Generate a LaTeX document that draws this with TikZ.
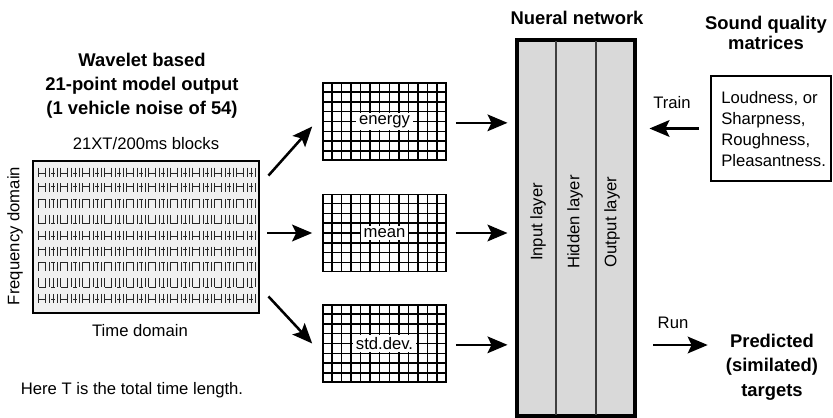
\documentclass[tikz,border=0pt]{standalone}
\usepackage{fontspec}
\setmainfont{Liberation Sans}
\usetikzlibrary{arrows.meta,calc}

\begin{document}
\begin{tikzpicture}[x=0.75pt,y=-0.75pt,
  body/.style={font=\fontsize{12.5}{15.75}\selectfont, inner sep=0pt},
  head/.style={font=\fontsize{13.8}{18}\selectfont\bfseries, align=center, inner sep=0pt},
  arr/.style={line width=1.9pt, -{Stealth[length=15pt,width=12.5pt,inset=3pt]}},
  tile/.style={line width=0.65pt, black!85},
  gridline/.style={line width=1.1pt},
  mapbox/.style={draw, line width=1.2pt, minimum width=92.25pt, minimum height=57.75pt, inner sep=0pt},
  maplabel/.style={body, fill=white, inner xsep=2pt, inner ysep=1.5pt},
  layer/.style={body, rotate=90},
]
\useasboundingbox (0,0) rectangle (833,418);

% ---- wavelet time-frequency block ----
\node[head] (title) at (142,86) {Wavelet based\\21-point model output\\(1 vehicle noise of 54)};
\node[body] (blocks) at (146,144) {21XT/200ms blocks};
\node[draw, line width=2.2pt, fill=black!6, minimum width=169.5pt, minimum height=114pt, inner sep=0pt] (tf) at (146,237) {};
% tiles: bar height offset per row
\foreach \r/\hb in {0/1.5,1/-1.5,2/-4.5,3/4.5,4/1.5,5/-1.5,6/-4.5,7/4.5,8/1.5}{
  \foreach \u in {0,...,9}{
    \pgfmathsetmacro\xx{38.5+22*\u}
    \pgfmathsetmacro\yc{172+15.8*\r}
    \draw[tile]
      (\xx,\yc-4.5) -- (\xx,\yc+4.5)
      (\xx+7,\yc-4.5) -- (\xx+7,\yc+4.5)
      (\xx,\yc+\hb) -- (\xx+7,\yc+\hb)
      (\xx+10.5,\yc-4.5) -- (\xx+10.5,\yc+4.5)
      (\xx+14.5,\yc-4.5) -- (\xx+14.5,\yc+4.5)
      (\xx+12.5,\yc+\hb) -- (\xx+16.5,\yc+\hb)
      (\xx+18.5,\yc-4.5) -- (\xx+18.5,\yc+4.5);
  }
}
\node[body, rotate=90] (freq) at (15,236) {Frequency domain};
\node[body] (time) at (140,331) {Time domain};
\node[body] (note) at (132,390) {Here T is the total time length.};

% ---- feature maps ----
\node[mapbox] (en) at (384.5,121.5) {};
\node[mapbox] (mn) at (384.5,233) {};
\node[mapbox] (sd) at (384.5,343.5) {};
\foreach \n in {en,mn,sd}{
  \foreach \i in {1,...,12}
    \draw[gridline] ($(\n.south west)!\i/13!(\n.south east)$) -- ($(\n.north west)!\i/13!(\n.north east)$);
  \foreach \j in {1,...,7}
    \draw[gridline] ($(\n.south west)!\j/8!(\n.north west)$) -- ($(\n.south east)!\j/8!(\n.north east)$);
}
\node[maplabel] (enl) at (en) {energy};
\node[maplabel] (mnl) at (mn) {mean};
\node[maplabel] (sdl) at (sd) {std.dev.};

% ---- neural network ----
\node[head] (nnt) at (577,18) {Nueral network};
\node[draw, line width=2.2pt, fill=black!15, minimum width=87pt, minimum height=280.5pt, inner sep=0pt] (nn) at (576,228) {};
\draw[line width=1.1pt, black!75] ($(nn.north west)!1/3!(nn.north east)$) -- ($(nn.south west)!1/3!(nn.south east)$);
\draw[line width=1.1pt, black!75] ($(nn.north west)!2/3!(nn.north east)$) -- ($(nn.south west)!2/3!(nn.south east)$);
\draw[line width=2.2pt] (nn.north west) rectangle (nn.south east);
\node[layer] (inl) at (538,222) {Input layer};
\node[layer] (hdl) at (575,222) {Hidden layer};
\node[layer] (otl) at (612,222) {Output layer};

% ---- targets ----
\node[head, font=\fontsize{13.8}{15}\selectfont\bfseries] (sqt) at (766,33) {Sound quality\\matrices};
\node[draw, line width=1.6pt, minimum width=90pt, minimum height=78.75pt, inner sep=0pt] (sq) at (771,128.5) {};
\node[body, align=left, anchor=west] (sqx) at (721,129) {Loudness, or\\Sharpness,\\Roughness,\\Pleasantness.};
\node[body] (train) at (672,103) {Train};
\node[body] (run) at (673,323) {Run};
\node[head, font=\fontsize{13.8}{18.4}\selectfont\bfseries] (pr) at (772,367) {Predicted\\(similated)\\targets};
\coordinate (runy) at (0,345);

% ---- connectors ----
\draw[arr] ([shift={(8,16)}]tf.north east) -- ([shift={(-10,5)}]en.west);
\draw[arr, shorten <=7pt*0.75] (tf.east |- mn.west) -- ([xshift=-7.5pt]mn.west);
\draw[arr] ([shift={(8,-18)}]tf.south east) -- ([xshift=-7.5pt]sd.west);
\draw[arr, shorten <=6.75pt, shorten >=6.75pt] ([yshift=-1pt]en.east) -- ([yshift=-1pt]nn.west |- en.east);
\draw[arr, shorten <=6.75pt, shorten >=6.75pt] (mn.east) -- (nn.west |- mn.east);
\draw[arr, shorten <=6.75pt, shorten >=6.75pt] ([yshift=-1pt]sd.east) -- ([yshift=-1pt]nn.west |- sd.east);
\draw[arr, shorten <=8.25pt, shorten >=10.5pt] (sq.west) -- (nn.east |- sq.west);
\draw[arr, shorten <=13.5pt, shorten >=13.5pt] (nn.east |- runy) -- (pr.west |- runy);
\end{tikzpicture}
\end{document}
